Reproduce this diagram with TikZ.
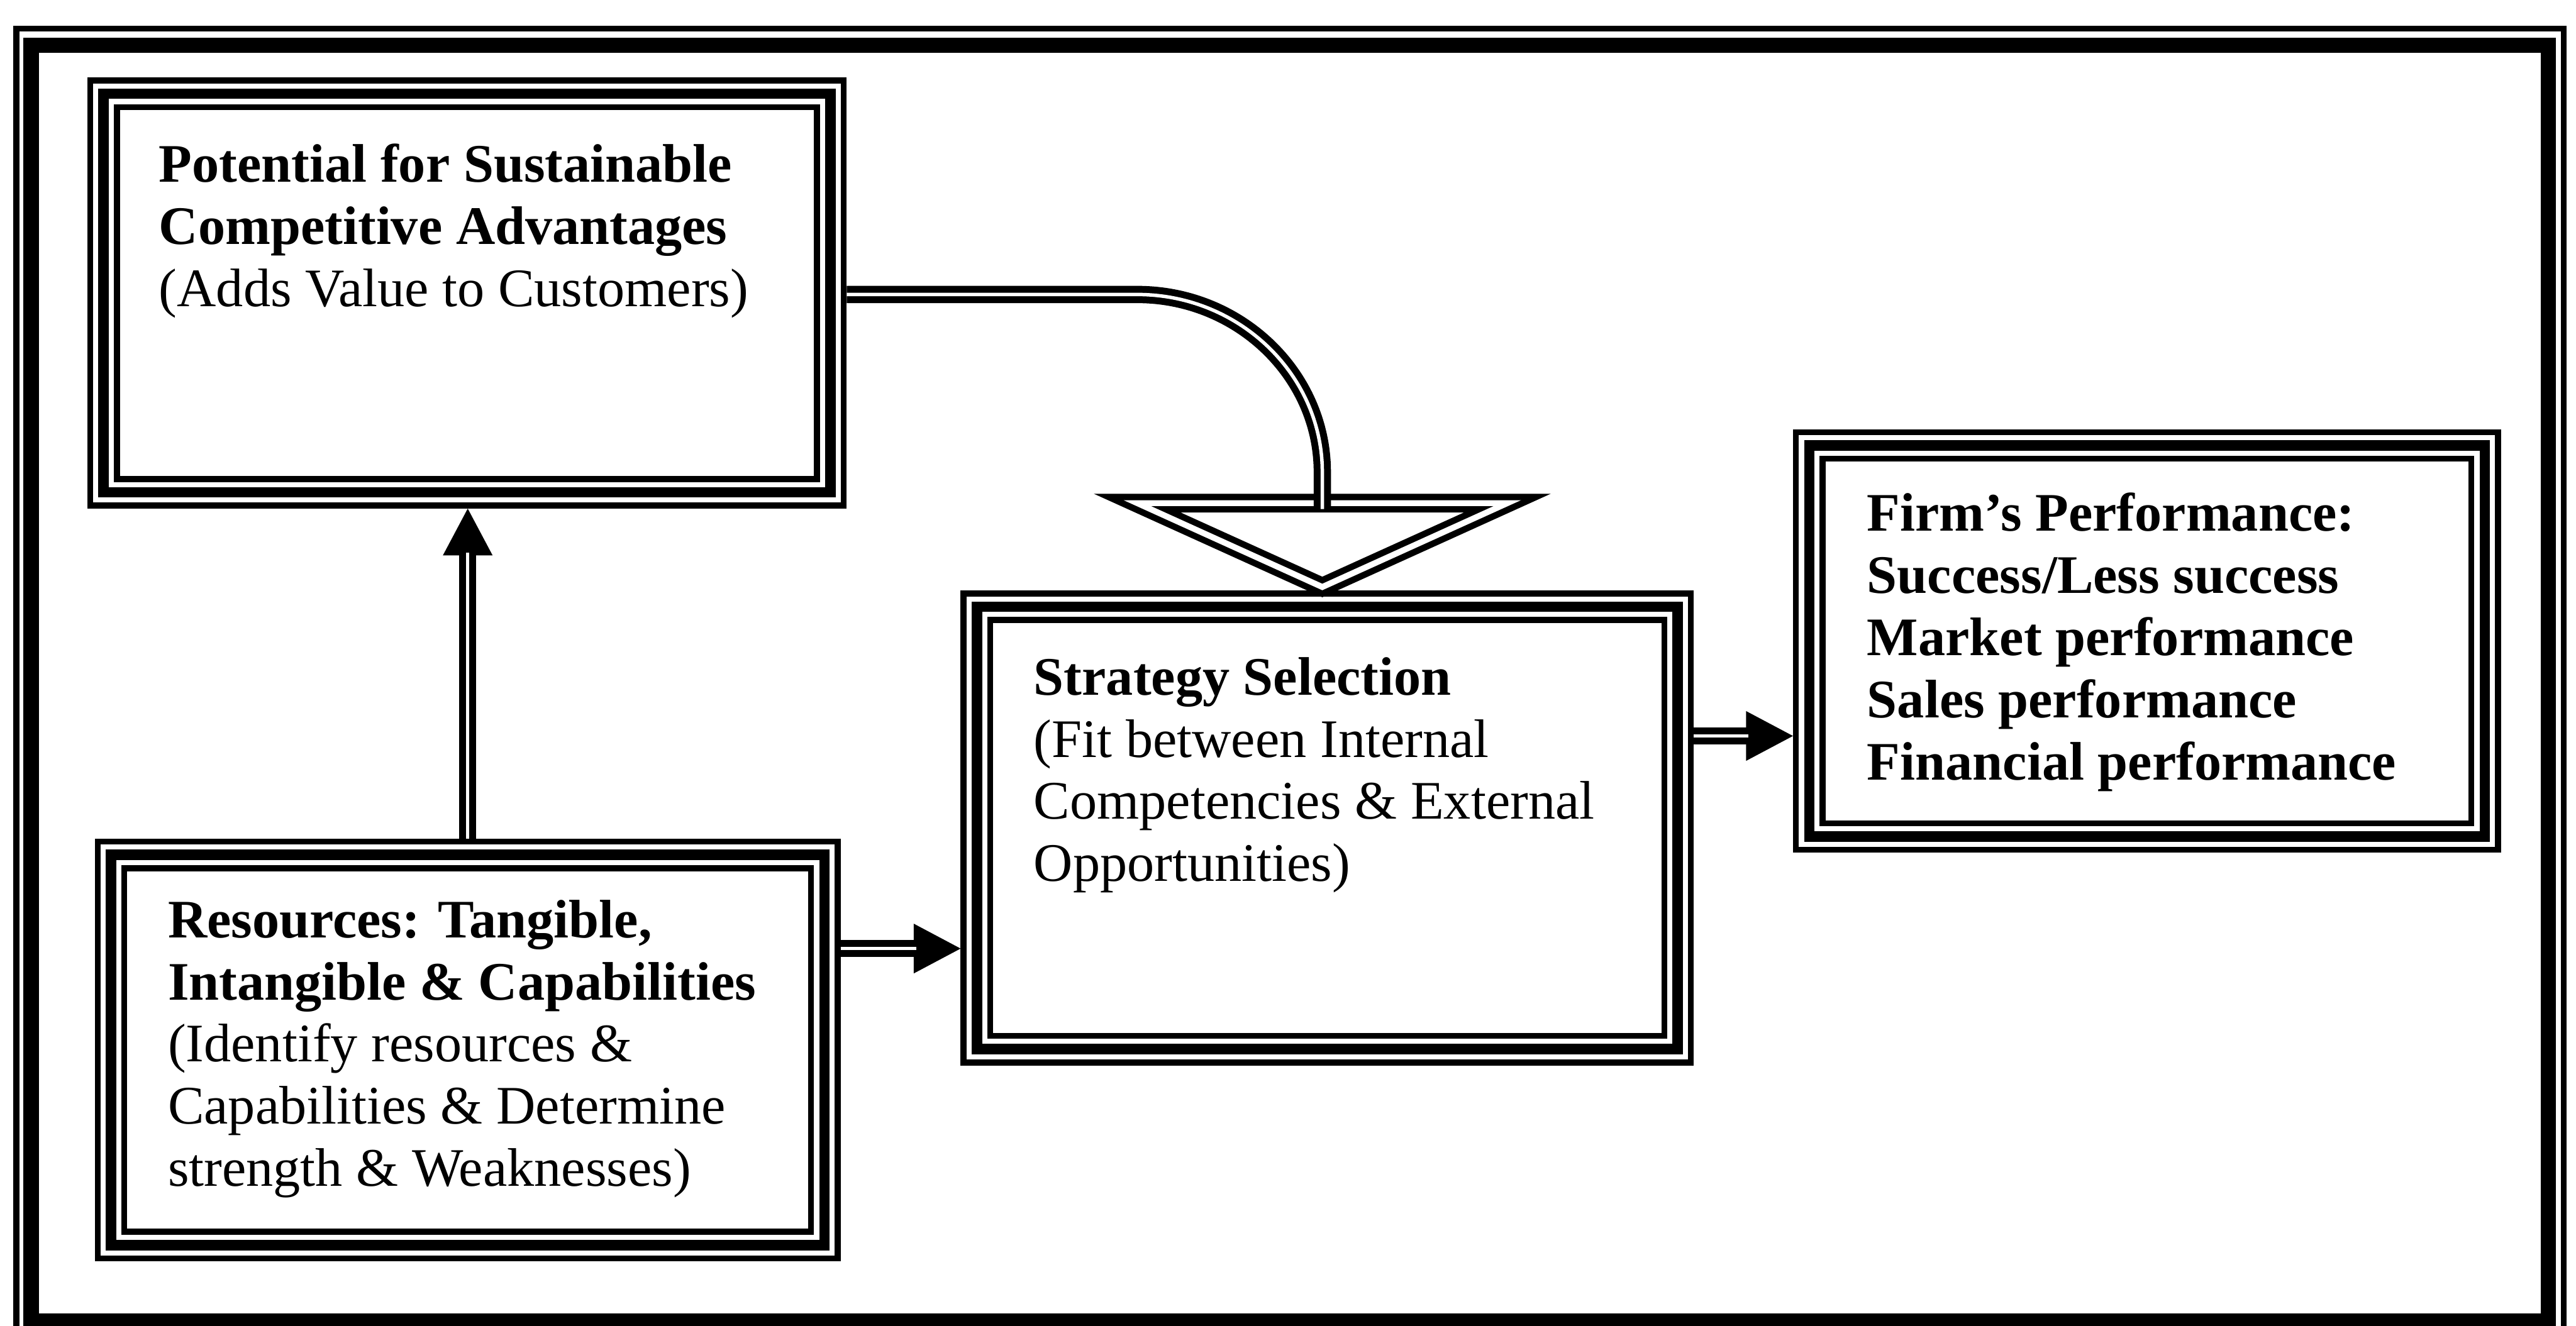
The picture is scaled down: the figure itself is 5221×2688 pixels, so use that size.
\documentclass[tikz,border=0pt]{standalone}
\usepackage{fontspec}
\setmainfont{Liberation Serif}
\usetikzlibrary{arrows.meta,fit}

\tikzset{
  framethin/.style={line width=1.8pt},
  framethick/.style={line width=4.65pt},
  tribox/.style={draw=black, line width=9.9pt, inner sep=0pt,
    postaction={draw=white, line width=6.3pt},
    postaction={draw=black, line width=3.2pt}},
  dblline/.style={line width=2.1pt, double=white, double distance=1.05pt},
  dblarrow/.style={-{Triangle[length=14.25pt,width=15pt]}, line width=0.5pt,
    postaction={draw, -, dblline, shorten >=13.5pt}},
  hollowtri/.style={line width=1.95pt, double=white, double distance=1.8pt},
  txt/.style={font=\fontsize{16.5}{18.9}\selectfont, align=left, inner sep=0pt, anchor=north west}
}

\begin{document}
\begin{tikzpicture}[x=0.15pt,y=0.15pt,yscale=-1,xscale=1]
\useasboundingbox (0,0) rectangle (5221,2688);
\clip (0,0) rectangle (5221,2688);

%Shape: outer frame
\draw [framethin] (33,58) rectangle (5196,2709);
\draw [framethick] (63,92) rectangle (5165,2678);

%Shape: boxes
\node [tribox, fit={(210,190) (1683,998)}] (pot) {};
\node [tribox, fit={(1980,1230) (3400,2127)}] (strat) {};
\node [tribox, fit={(225,1733) (1671,2524)}] (res) {};
\node [tribox, fit={(3667,903) (5036,1696)}] (perf) {};

%Shape: hollow arrow head
\draw [hollowtri] (2305,1020) -- (3055,1020) -- (2680,1190) -- cycle;
\coordinate (tritop) at (2680,1032);

%Connectors
\draw [dblarrow] (res.north) -- (res.north |- pot.south);
\draw [dblarrow] (res.east |- 0,1923) -- (strat.west |- 0,1923);
\draw [dblarrow] (strat.east |- 0,1492) -- (perf.west |- 0,1492);
\draw [dblline] (pot.east |- 0,597) -- (2305,597) .. controls (2512,597) and (2680,760) .. (2680,957) -- (tritop);

% Text Node
\node [txt] (potTxt) at (321,290) {\textbf{Potential for Sustainable}\\\textbf{Competitive Advantages}\\(Adds Value to Customers)};
% Text Node
\node [txt] (stratTxt) at (2094,1331) {\textbf{Strategy Selection}\\(Fit between Internal\\Competencies \& External\\Opportunities)};
% Text Node
\node [txt] (resTxt) at (339,1823) {\textbf{Resources: Tangible,}\\\textbf{Intangible \& Capabilities}\\(Identify resources \&\\Capabilities \& Determine\\strength \& Weaknesses)};
% Text Node
\node [txt] (perfTxt) at (3783,998) {\textbf{Firm’s Performance:}\\\textbf{Success/Less success}\\\textbf{Market performance}\\\textbf{Sales performance}\\\textbf{Financial performance}};

\end{tikzpicture}
\end{document}
